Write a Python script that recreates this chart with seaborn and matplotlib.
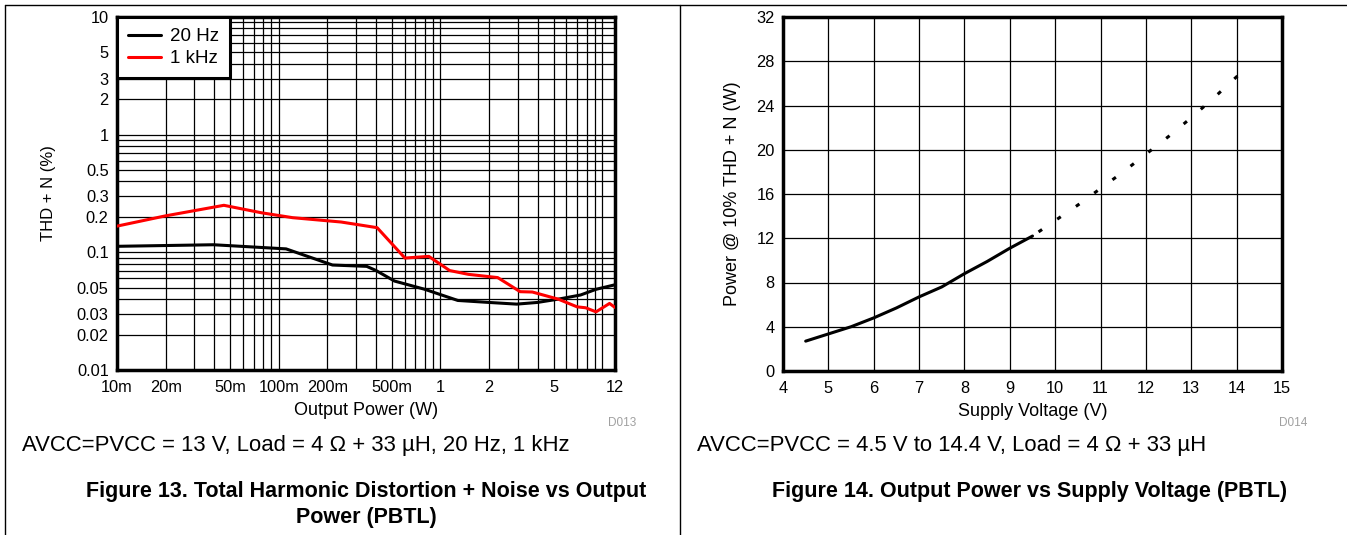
import numpy as np
import pandas as pd
import matplotlib
matplotlib.use("Agg")
import matplotlib.pyplot as plt
from matplotlib.lines import Line2D
from matplotlib.ticker import FixedLocator, NullFormatter
import seaborn as sns

# ---------------- data ----------------
thd_20hz_power = [0.01, 0.0395, 0.111, 0.215, 0.35, 0.40, 0.52, 0.80, 1.28, 2.0, 2.96, 3.97, 5.35, 7.35, 9.16, 12.0]
thd_20hz_value = [0.1125, 0.116, 0.107, 0.078, 0.076, 0.070, 0.057, 0.0485, 0.039, 0.0375, 0.0363, 0.0375, 0.040, 0.0434, 0.0485, 0.053]

thd_1khz_power = [0.01, 0.0199, 0.0458, 0.078, 0.122, 0.243, 0.406, 0.603, 0.847, 1.14, 1.49, 2.26, 3.11, 3.7, 5.35, 7.0, 7.9, 9.16, 11.1, 12.0]
thd_1khz_value = [0.167, 0.204, 0.251, 0.217, 0.197, 0.181, 0.162, 0.0894, 0.0924, 0.070, 0.065, 0.061, 0.0463, 0.046, 0.040, 0.0344, 0.0338, 0.0312, 0.0368, 0.034]

x_tick_vals = [0.01, 0.02, 0.05, 0.1, 0.2, 0.5, 1, 2, 5, 12]
x_tick_labels = ["10m", "20m", "50m", "100m", "200m", "500m", "1", "2", "5", "12"]
y_tick_vals = [0.01, 0.02, 0.03, 0.05, 0.1, 0.2, 0.3, 0.5, 1, 2, 3, 5, 10]
y_tick_labels = ["0.01", "0.02", "0.03", "0.05", "0.1", "0.2", "0.3", "0.5", "1", "2", "3", "5", "10"]

pout_solid_v = [4.5, 5.0, 5.5, 6.0, 6.5, 7.0, 7.5, 8.0, 8.5, 9.0, 9.5]
pout_solid_w = [2.7, 3.35, 4.0, 4.8, 5.7, 6.7, 7.6, 8.8, 9.9, 11.1, 12.2]
pout_dot_v = [9.5, 10.0, 10.5, 11.0, 11.5, 12.0, 12.5, 13.0, 13.5, 14.0, 14.3]
pout_dot_w = [12.2, 13.6, 15.0, 16.5, 18.0, 19.6, 21.2, 22.9, 24.7, 26.6, 27.6]
v_ticks = list(range(4, 16))
p_ticks = [0, 4, 8, 12, 16, 20, 24, 28, 32]

# ---------------- style ----------------
sns.set_style("white")
plt.rcParams["font.family"] = ["Liberation Sans", "DejaVu Sans"]
for k in ["text.color", "axes.labelcolor", "xtick.color", "ytick.color"]:
    plt.rcParams[k] = "black"

W, H = 1347, 535
fig = plt.figure(figsize=(W / 100, H / 100), dpi=100)

def fx(px):
    return px / W

def fy(py):
    return 1 - py / H

TICK_FS = 11.8
LABEL_FS = 13

# ---------------- left chart ----------------
axL = fig.add_axes([fx(117), fy(370), fx(615) - fx(117), fy(17) - fy(370)])
df_thd = pd.concat([
    pd.DataFrame({"power": thd_20hz_power, "thd": thd_20hz_value, "freq": "20 Hz"}),
    pd.DataFrame({"power": thd_1khz_power, "thd": thd_1khz_value, "freq": "1 kHz"}),
])
sns.lineplot(data=df_thd, x="power", y="thd", hue="freq", sort=False, estimator=None,
             palette={"20 Hz": "black", "1 kHz": "#ff0000"}, linewidth=2.2, ax=axL, zorder=5)
axL.set_xscale("log")
axL.set_yscale("log")
axL.set_xlim(0.01, 12)
axL.set_ylim(0.01, 10)

x_minor = [m * 10.0 ** e for e in range(-2, 1) for m in range(1, 10)] + [10]
y_minor = [m * 10.0 ** e for e in range(-2, 1) for m in range(1, 10)]
axL.xaxis.set_major_locator(FixedLocator(x_tick_vals))
axL.set_xticklabels(x_tick_labels)
axL.xaxis.set_minor_locator(FixedLocator(x_minor))
axL.xaxis.set_minor_formatter(NullFormatter())
axL.yaxis.set_major_locator(FixedLocator(y_tick_vals))
axL.set_yticklabels(y_tick_labels)
axL.yaxis.set_minor_locator(FixedLocator(y_minor))
axL.yaxis.set_minor_formatter(NullFormatter())
axL.grid(True, which="both", color="black", linewidth=0.9)
axL.tick_params(axis="x", which="both", length=0, labelsize=TICK_FS, pad=7)
axL.tick_params(axis="y", which="both", length=0, labelsize=TICK_FS, pad=6)
for s in axL.spines.values():
    s.set_color("black")
    s.set_linewidth(2.5)
axL.set_xlabel("Output Power (W)", fontsize=LABEL_FS, labelpad=5.5)
axL.set_ylabel("THD + N (%)", fontsize=12, labelpad=15)
leg = axL.legend(loc="upper left", borderaxespad=0, fancybox=False, framealpha=1,
                 edgecolor="black", fontsize=13.5, handlelength=1.75, handletextpad=0.45,
                 borderpad=0.6, labelspacing=0.25)
leg.get_frame().set_linewidth(2.2)
leg.set_zorder(10)
for h in leg.get_lines():
    h.set_linewidth(2.2)

# ---------------- right chart ----------------
axR = fig.add_axes([fx(783), fy(371), fx(1282) - fx(783), fy(17) - fy(371)])
df_solid = pd.DataFrame({"v": pout_solid_v, "p": pout_solid_w})
df_dot = pd.DataFrame({"v": pout_dot_v, "p": pout_dot_w})
sns.lineplot(data=df_solid, x="v", y="p", color="black", linewidth=2.2, ax=axR, zorder=5)
sns.lineplot(data=df_dot, x="v", y="p", color="black", linewidth=2.2, ax=axR, zorder=5,
             linestyle=(5, (1.4, 6.0)))
axR.set_xlim(4, 15)
axR.set_ylim(0, 32)
axR.set_xticks(v_ticks)
axR.set_yticks(p_ticks)
axR.grid(True, color="black", linewidth=0.9)
axR.tick_params(axis="x", length=0, labelsize=TICK_FS, pad=7)
axR.tick_params(axis="y", length=0, labelsize=TICK_FS, pad=6)
for s in axR.spines.values():
    s.set_color("black")
    s.set_linewidth(2.5)
axR.set_xlabel("Supply Voltage (V)", fontsize=LABEL_FS, labelpad=5.5)
axR.set_ylabel("Power @ 10% THD + N (W)", fontsize=LABEL_FS, labelpad=11)

# ---------------- annotations ----------------
fig.text(fx(622), fy(423), "D013", color="#a0a0a0", fontsize=8.5, ha="center", va="center")
fig.text(fx(1293), fy(423), "D014", color="#a0a0a0", fontsize=8.5, ha="center", va="center")
fig.text(fx(22), fy(445), "AVCC=PVCC = 13 V, Load = 4 \u03a9 + 33 \u00b5H, 20 Hz, 1 kHz",
         fontsize=15.9, ha="left", va="center")
fig.text(fx(697), fy(445), "AVCC=PVCC = 4.5 V to 14.4 V, Load = 4 \u03a9 + 33 \u00b5H",
         fontsize=15.9, ha="left", va="center")
fig.text(fx(366), fy(492), "Figure 13. Total Harmonic Distortion + Noise vs Output",
         fontsize=15.5, fontweight="bold", ha="center", va="center")
fig.text(fx(366), fy(517), "Power (PBTL)", fontsize=15.5, fontweight="bold", ha="center", va="center")
fig.text(fx(1030), fy(492), "Figure 14. Output Power vs Supply Voltage (PBTL)",
         fontsize=15.5, fontweight="bold", ha="center", va="center")

# frame lines of the document table
for (x0, y0, x1, y1) in [(5, 5, 1347, 5), (5, 5, 5, 535), (680, 5, 680, 535)]:
    fig.add_artist(Line2D([fx(x0), fx(x1)], [fy(y0), fy(y1)], color="black", linewidth=1.0))

fig.savefig("out.png", dpi=100)
